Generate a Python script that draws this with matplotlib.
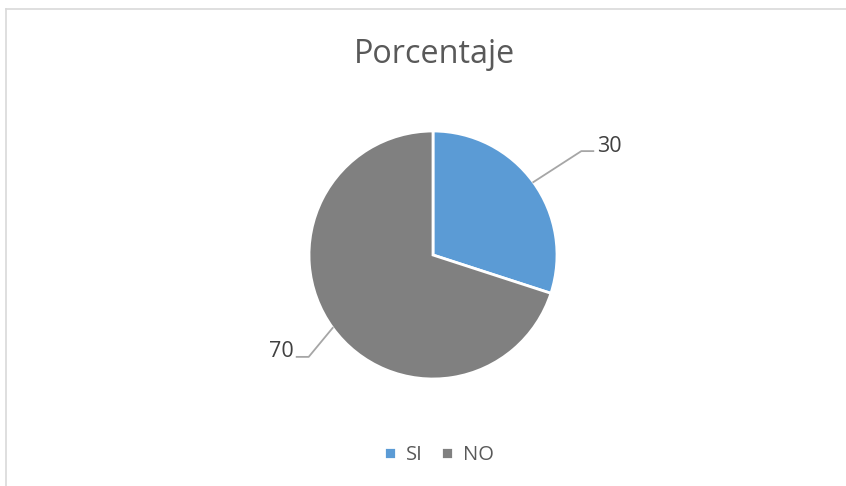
import numpy as np
import matplotlib.pyplot as plt
from matplotlib.lines import Line2D

plt.rcParams['font.family'] = ['Open Sans', 'DejaVu Sans']

categories = ['SI', 'NO']
values = [30, 70]
colors = ['#5B9BD5', '#808080']

W, H = 846, 486
fig = plt.figure(figsize=(W / 100, H / 100), dpi=100)
ax = fig.add_axes([0, 0, 1, 1])

# light frame (only left and top edges show in the crop)
fx, fy = 5.5 / W, 1 - 9.5 / H
fig.add_artist(Line2D([fx, fx], [0, fy], transform=fig.transFigure,
                      color='#D9D9D9', lw=1.2))
fig.add_artist(Line2D([fx, 1], [fy, fy], transform=fig.transFigure,
                      color='#D9D9D9', lw=1.2))

cx, cy, r = 433, H - 255, 124
wedges, _ = ax.pie(values, colors=colors, startangle=90, counterclock=False,
                   center=(cx, cy), radius=r, frame=True,
                   wedgeprops=dict(edgecolor='white', linewidth=2))
ax.set_xlim(0, W)
ax.set_ylim(0, H)
ax.set_aspect('equal')
ax.axis('off')

# data labels with leader lines
offsets = {0: (48, 31, 12), 1: (-24, -29, -12)}
for i, w in enumerate(wedges):
    ang = np.deg2rad((w.theta1 + w.theta2) / 2)
    x0, y0 = cx + r * np.cos(ang), cy + r * np.sin(ang)
    dx, dy, hz = offsets[i]
    x1, y1 = x0 + dx, y0 + dy
    x2 = x1 + hz
    ax.plot([x0, x1, x2], [y0, y1, y1], color='#A6A6A6', lw=1.3)
    ha = 'left' if hz > 0 else 'right'
    ax.text(x2 + (4 if hz > 0 else -3), y1 + 5, str(values[i]), ha=ha, va='center',
            fontsize=15.5, color='#404040')

ax.text(W / 2 + 11, H - 55, 'Porcentaje', ha='center', va='center',
        fontsize=23.3, color='#595959')

ax.legend(wedges, categories, loc='center', bbox_to_anchor=(439 / W, 1 - 455 / H),
          ncol=2, frameon=False, fontsize=14.5, handlelength=0.6, handleheight=0.6,
          handletextpad=0.5, columnspacing=0.9, labelcolor='#595959')

fig.savefig('out.png', dpi=100)
